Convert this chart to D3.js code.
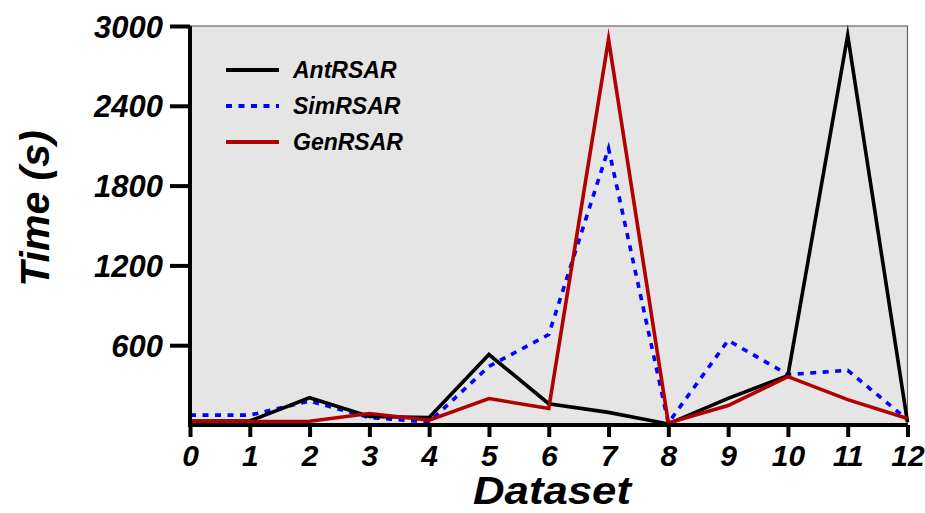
<!DOCTYPE html>
<html>
<head>
<meta charset="utf-8">
<script src="https://cdn.jsdelivr.net/npm/d3@7"></script>
<style>
  html, body { margin: 0; padding: 0; background: #ffffff; }
  svg { display: block; }
  text { font-family: "Liberation Sans", Arial, Helvetica, sans-serif; font-weight: bold; font-style: italic; fill: #000; }
</style>
</head>
<body>
<svg id="chart" width="925" height="513"></svg>
<script>
const datasets = [0, 1, 2, 3, 4, 5, 6, 7, 8, 9, 10, 11, 12];
const antRSAR = [30, 30, 205, 64, 56, 530, 160, 95, 8, 200, 371, 2930, 20];
const simRSAR = [74, 74, 180, 56, 22, 441, 680, 2080, 15, 636, 379, 411, 40];
const genRSAR = [26, 26, 28, 86, 36, 199, 124, 2900, 15, 146, 364, 191, 49];
const yTicks = [600, 1200, 1800, 2400, 3000];
const seriesNames = ["AntRSAR", "SimRSAR", "GenRSAR"];
const seriesColors = ["#000000", "#0000ff", "#b00000"];
const seriesDash = [null, "6,6.5", null];

(function () {
const svg = d3.select("#chart");
const pL = 190, pR = 907.5, pT = 26, pB = 425;

const x = d3.scaleLinear().domain([0, 12]).range([pL, pR]);
const y = d3.scaleLinear().domain([0, 3000]).range([pB, pT]);

svg.append("rect")
  .attr("x", pL).attr("y", pT)
  .attr("width", pR - pL).attr("height", pB - pT)
  .attr("fill", "#e5e5e5")
  .attr("stroke", "#666666").attr("stroke-width", 1.2);

const allSeries = [antRSAR, simRSAR, genRSAR];
const line = d3.line().x((d, i) => x(datasets[i])).y(d => y(d));
const order = [1, 0, 2];
order.forEach(k => {
  svg.append("path")
    .datum(allSeries[k])
    .attr("d", line)
    .attr("fill", "none")
    .attr("stroke", seriesColors[k])
    .attr("stroke-width", 3.6)
    .attr("stroke-linejoin", "miter")
    .attr("stroke-miterlimit", 10)
    .attr("stroke-dasharray", seriesDash[k]);
});

const xAxis = d3.axisBottom(x).tickValues(datasets).tickSize(12).tickPadding(8).tickFormat(d3.format("d"));
const gx = svg.append("g").attr("transform", `translate(0,${pB})`).call(xAxis);
gx.select(".domain").attr("stroke", "#000").attr("stroke-width", 4).attr("d", `M${pL - 2},0H${pR}`);
gx.selectAll(".tick line").attr("stroke", "#000").attr("stroke-width", 4);
gx.selectAll(".tick text").attr("font-size", 30).attr("fill", "#000")
  .style("font-family", "Liberation Sans, Arial, sans-serif").style("font-weight", "bold").style("font-style", "italic");

const yAxis = d3.axisLeft(y).tickValues(yTicks).tickSize(20).tickPadding(7).tickFormat(d3.format("d"));
const gy = svg.append("g").attr("transform", `translate(${pL},0)`).call(yAxis);
gy.select(".domain").attr("stroke", "#000").attr("stroke-width", 4).attr("d", `M0,${pT}V${pB + 2}`);
gy.selectAll(".tick line").attr("stroke", "#000").attr("stroke-width", 4);
gy.selectAll(".tick text").attr("font-size", 31).attr("fill", "#000").attr("dy", "0.36em")
  .style("font-family", "Liberation Sans, Arial, sans-serif").style("font-weight", "bold").style("font-style", "italic");

svg.append("text")
  .attr("x", 552).attr("y", 504)
  .attr("text-anchor", "middle").attr("font-size", 39)
  .attr("textLength", 158).attr("lengthAdjust", "spacingAndGlyphs")
  .text("Dataset");
svg.append("text")
  .attr("transform", `translate(49,${(pT + pB) / 2 - 17}) rotate(-90)`)
  .attr("text-anchor", "middle").attr("font-size", 41)
  .text("Time (s)");

const legend = svg.append("g");
seriesNames.forEach((name, i) => {
  const ly = 70 + i * 36;
  legend.append("line")
    .attr("x1", 226).attr("x2", 279).attr("y1", ly).attr("y2", ly)
    .attr("stroke", seriesColors[i]).attr("stroke-width", 4)
    .attr("stroke-dasharray", seriesDash[i]);
  legend.append("text")
    .attr("x", 293).attr("y", ly + 8)
    .attr("font-size", 23)
    .text(name);
});
})();
</script>
</body>
</html>
